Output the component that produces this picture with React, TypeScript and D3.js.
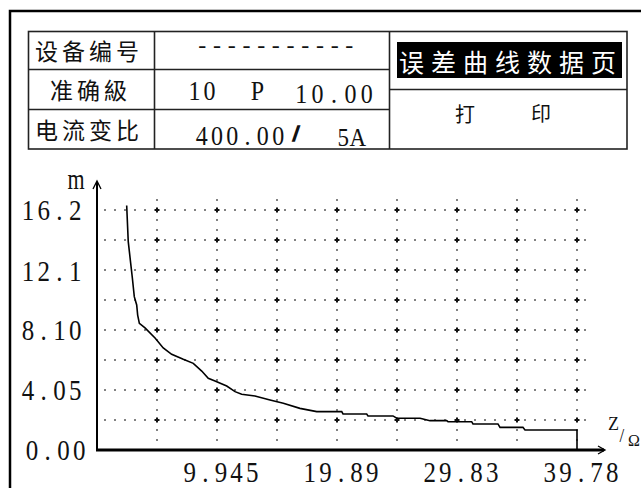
import React from "react";
import * as d3 from "d3";

// ---- data ----
const zValues: number[] = [
  2.46, 2.59, 2.79, 2.93, 3.09, 3.29, 3.37, 3.51, 3.98, 4.81, 5.49, 6.19, 7.15, 7.98,
  8.68, 9.22, 9.78, 10.75, 11.44, 11.99, 13.09, 14.34, 15.44, 16.82, 18.21, 20.28,
  20.39, 22.35, 22.46, 24.53, 24.84, 26.77, 27.6, 28.98, 29.09, 31.05, 31.16, 33.23,
  33.4, 35.3, 35.47, 39.75, 39.78, 39.78,
];
const mValues: number[] = [
  16.5, 14.06, 12.62, 11.61, 10.35, 9.79, 9.11, 8.55, 8.24, 7.56, 6.89, 6.46, 6.12, 5.85,
  5.33, 4.84, 4.66, 4.32, 3.94, 3.76, 3.65, 3.38, 3.15, 2.81, 2.59, 2.59,
  2.43, 2.43, 2.3, 2.3, 2.14, 2.14, 1.98, 1.98, 1.91, 1.91, 1.76, 1.76,
  1.53, 1.53, 1.35, 1.35, 1.35, 0,
];
const yTickValues: number[] = [16.2, 12.1, 8.1, 4.05, 0];
const yTickLabels: string[] = ["16.2", "12.1", "8.10", "4.05", "0.00"];
const xTickValues: number[] = [9.945, 19.89, 29.83, 39.78];
const xTickLabels: string[] = ["9.945", "19.89", "29.83", "39.78"];
const rowLabels: string[] = ["设备编号", "准确級", "电流变比"];
const titleText = "误差曲线数据页";
const printText: string[] = ["打", "印"];
const deviceId = "-----------";
const accuracyParts: string[] = ["10", "P", "10.00"];
const ratioParts: string[] = ["400.00", "/", "5A"];

const X_MAX = 39.78;
const Y_MAX = 16.2;
const GRID_X_COUNT = 8;
const GRID_Y_COUNT = 8;

const CJK = "'Noto Sans CJK SC', sans-serif";
const SERIF = "'Liberation Serif', serif";

// fixed-cell text (each glyph centred in its own cell, like a bitmap LCD font)
function Cells({ x, y, cell, size, sy = 1.2, anchor = "start", fill = "#111", weight = "normal", family = SERIF, stroke, text }: any) {
  const chars = Array.from(text as string);
  const total = chars.length * cell;
  const start = anchor === "start" ? 0 : anchor === "end" ? -total : -total / 2;
  return (
    <text
      transform={`translate(${x},${y}) scale(1,${sy})`}
      fontSize={size}
      fontFamily={family}
      textAnchor="middle"
      fill={fill}
      fontWeight={weight}
      stroke={stroke}
      strokeWidth={stroke ? 1.6 : undefined}
    >
      {chars.map((c, i) => (
        <tspan key={i} x={start + cell * (i + 0.5)} y={0}>
          {c}
        </tspan>
      ))}
    </text>
  );
}

export default function App() {
  const W = 641;
  const H = 488;
  const x = d3.scaleLinear().domain([0, X_MAX]).range([97, 577]);
  const y = d3.scaleLinear().domain([0, Y_MAX]).range([450, 210]);

  const pts: [number, number][] = zValues.map((z, i) => [z, mValues[i]]);
  const line = d3
    .line<[number, number]>()
    .x((d) => x(d[0]))
    .y((d) => y(d[1]));

  const gridXs = d3.range(1, GRID_X_COUNT + 1).map((k) => x((X_MAX / GRID_X_COUNT) * k));
  const gridYs = d3.range(1, GRID_Y_COUNT + 1).map((k) => y((Y_MAX / GRID_Y_COUNT) * k));

  // dotted grid
  const dots: React.ReactNode[] = [];
  const hDotXs = d3.range(105, 590, 10).filter((dx) => gridXs.every((gx) => Math.abs(gx - dx) > 4));
  gridYs.forEach((gy, j) => {
    hDotXs.forEach((dx, i) => {
      dots.push(<rect key={`h${j}-${i}`} x={dx - 0.75} y={gy - 0.75} width={1.5} height={1.5} fill="#222" />);
    });
  });
  const vDotYs = d3.range(200, 445, 10).filter((dy) => gridYs.every((gy) => Math.abs(gy - dy) > 4));
  gridXs.forEach((gx, j) => {
    vDotYs.forEach((dy, i) => {
      dots.push(<rect key={`v${j}-${i}`} x={gx - 0.75} y={dy - 0.75} width={1.5} height={1.5} fill="#222" />);
    });
  });
  gridXs.forEach((gx, i) =>
    gridYs.forEach((gy, j) => {
      dots.push(
        <g key={`c${i}-${j}`} fill="#111">
          <rect x={gx - 2.5} y={gy - 1} width={5} height={2} />
          <rect x={gx - 1} y={gy - 2.5} width={2} height={5} />
        </g>
      );
    })
  );

  return (
    <svg width={W} height={H} style={{ position: "absolute", left: 0, top: 0, background: "#fff" }}>
      <rect x={0} y={0} width={W} height={H} fill="#fff" />
      {/* outer frame */}
      <path d={`M10,${H} L10,11 L${W},11`} fill="none" stroke="#000" strokeWidth={2.5} />

      {/* header table */}
      <g stroke="#222" strokeWidth={1.6} fill="none">
        <rect x={28.5} y={31.5} width={598.5} height={117.5} />
        <line x1={154.5} y1={31.5} x2={154.5} y2={149} />
        <line x1={389.5} y1={31.5} x2={389.5} y2={149} />
        <line x1={28.5} y1={69.5} x2={389.5} y2={69.5} />
        <line x1={28.5} y1={109.5} x2={389.5} y2={109.5} />
        <line x1={389.5} y1={89.5} x2={627} y2={89.5} />
      </g>
      <text x={35} y={60} fontSize={23} fontFamily={CJK} letterSpacing={4} fill="#111">{rowLabels[0]}</text>
      <text x={50} y={99} fontSize={23} fontFamily={CJK} letterSpacing={4} fill="#111">{rowLabels[1]}</text>
      <text x={35} y={139} fontSize={23} fontFamily={CJK} letterSpacing={4} fill="#111">{rowLabels[2]}</text>

      <Cells x={195} y={53} cell={14.7} size={24} sy={1} text={deviceId} />
      <Cells x={187} y={100} cell={15} size={24} sy={1.15} text={accuracyParts[0]} />
      <Cells x={250} y={100} cell={15} size={24} sy={1.15} text={accuracyParts[1]} />
      <Cells x={293} y={103} cell={16.4} size={24} sy={1.15} text={accuracyParts[2]} />
      <Cells x={194} y={145} cell={15.3} size={24} sy={1.15} text={ratioParts[0]} />
      <Cells x={289} y={141} cell={14} size={22} sy={1.05} weight="bold" stroke="#111" text={ratioParts[1]} />
      <Cells x={336} y={146} cell={14.5} size={23} sy={1.1} text={ratioParts[2]} />

      <rect x={397} y={42} width={225} height={36} fill="#000" />
      <text x={399} y={72} fontSize={25} fontFamily={CJK} letterSpacing={7} fill="#fff">{titleText}</text>
      <text x={455} y={122} fontSize={20} fontFamily={CJK} fill="#111">{printText[0]}</text>
      <text x={531} y={121} fontSize={20} fontFamily={CJK} fill="#111">{printText[1]}</text>

      {/* grid */}
      <g>{dots}</g>

      {/* axes */}
      <line x1={97} y1={451} x2={97} y2={182} stroke="#000" strokeWidth={2} />
      <path d="M93,189 L97,181 L101,189" fill="none" stroke="#000" strokeWidth={1.3} />
      <line x1={96} y1={450} x2={604} y2={450} stroke="#000" strokeWidth={3} />
      <path d="M598,446 L605,450 L598,454" fill="none" stroke="#000" strokeWidth={1.3} />

      {/* curve */}
      <path d={line(pts) || ""} fill="none" stroke="#000" strokeWidth={1.6} />

      {/* tick labels */}
      {yTickValues.map((v, i) => (
        <Cells key={`yt${i}`} x={v === 0 ? 87 : 83} y={y(v) + 10} cell={15.75} size={25} sy={1.22} anchor="end" text={yTickLabels[i]} />
      ))}
      {xTickValues.map((v, i) => (
        <Cells key={`xt${i}`} x={x(v) + 4} y={482} cell={15.6} size={25} sy={1.22} anchor="middle" text={xTickLabels[i]} />
      ))}

      {/* axis titles */}
      <Cells x={67} y={189} cell={18} size={22} sy={1.3} text="m" />
      <Cells x={607} y={430} cell={13} size={18} sy={1.1} text="Z" />
      <Cells x={617} y={442} cell={10} size={17} sy={1.15} text="/" />
      <Cells x={627} y={446} cell={14} size={16} sy={1.1} text="Ω" />
    </svg>
  );
}
